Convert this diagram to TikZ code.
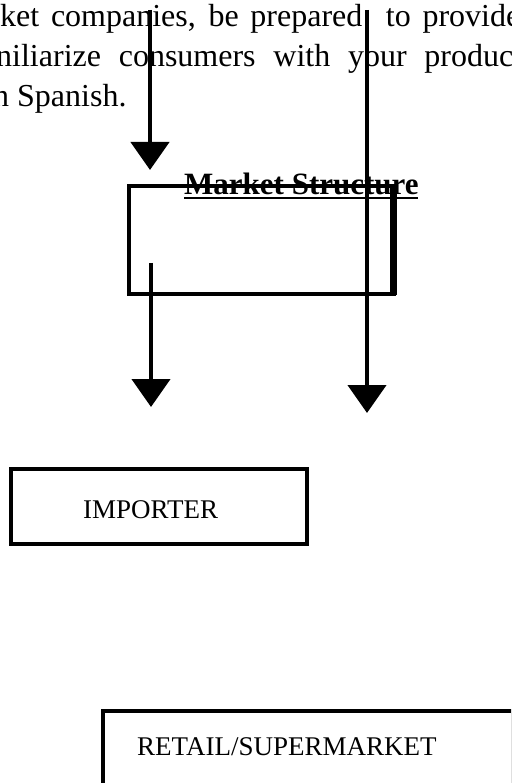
\documentclass[tikz,border=0pt]{standalone}
\usepackage{fontspec}
\setmainfont{Liberation Serif}
\usetikzlibrary{arrows.meta}
\begin{document}
\begin{tikzpicture}[x=1pt,y=-1pt,
  body/.style={inner sep=0pt,anchor=base west,font=\fontsize{32}{38}\selectfont},
  boxtext/.style={inner sep=0pt,anchor=base west,font=\fontsize{27}{32}\selectfont},
  conn/.style={line width=4.5pt,-{Triangle[width=38pt,length=28pt]}},
  frame/.style={draw,line width=4.5pt}]
\useasboundingbox (0,0) rectangle (511,783);
\clip (0,0) rectangle (511,783);
% paragraph text
\node[body] (l1) at (0,27) {\makebox[520pt][s]{ket companies, be prepared\ \ to provide}};
\node[body] (l2) at (-4,67) {\makebox[526pt][s]{niliarize consumers with your product}};
\node[body] (l3) at (-7,107) {n Spanish.};
% market structure box
\node[frame,minimum width=265pt,minimum height=108pt,inner sep=0pt] (ms) at (261.5,240) {};
\draw[line width=7pt] (393,187) -- (393,295);
\node[inner sep=0pt,anchor=base west,font=\fontsize{31}{37}\selectfont\bfseries] (mst) at (184,195) {Market Structure};
\draw[line width=2pt] (mst.base west)++(0,3) -- ++(234,0);
% connectors
\coordinate (a1) at (150,10);
\coordinate (a1e) at (150,170);
\coordinate (a2) at (367,10);
\coordinate (a2e) at (367,413);
\coordinate (a3) at (151,263);
\coordinate (a3e) at (151,407);
\draw[conn] (a1) -- (a1e);
\draw[conn] (a2) -- (a2e);
\draw[conn] (a3) -- (a3e);
% importer
\node[frame,minimum width=296pt,minimum height=75pt] (imp) at (159,506.5) {};
\node[boxtext] (impt) at (83,518) {IMPORTER};
% retail
\node[frame,minimum width=410pt,minimum height=74pt] (ret) at (308,748) {};
\node[boxtext] (rett) at (137,755) {RETAIL/SUPERMARKET};
\end{tikzpicture}
\end{document}
